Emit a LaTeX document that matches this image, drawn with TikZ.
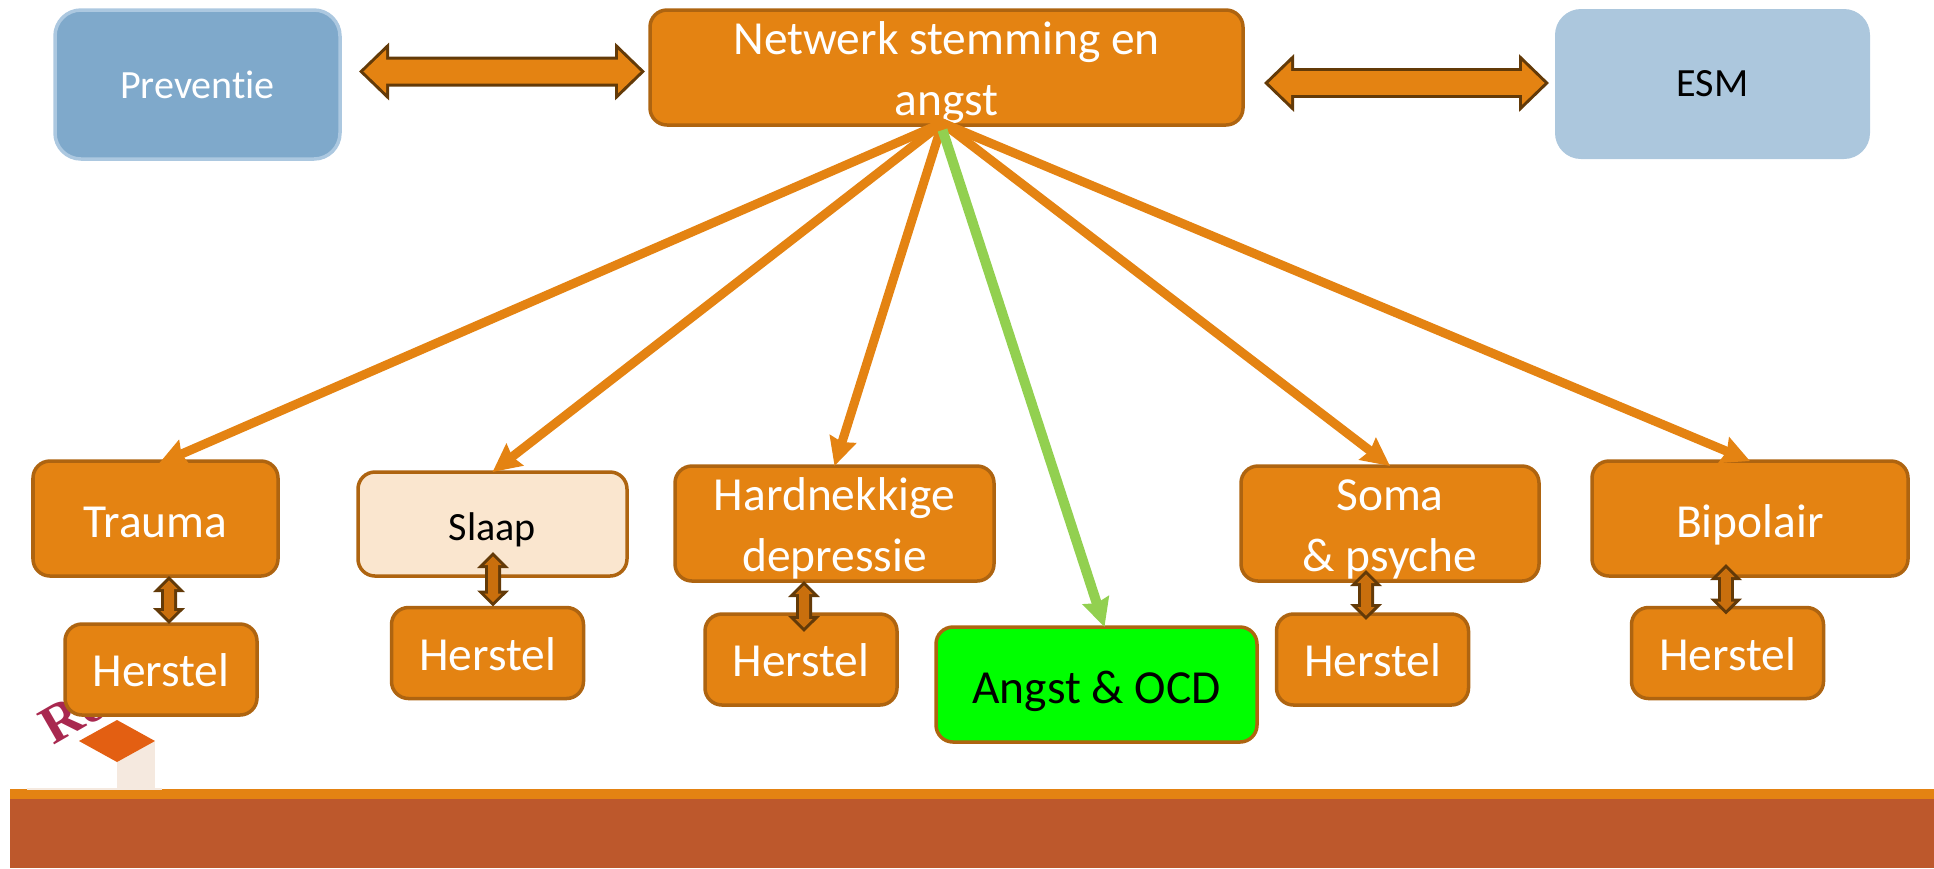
\documentclass[tikz,border=0pt]{standalone}
\usepackage{fontspec}
\setmainfont[Ligatures=NoCommon]{Carlito}
\newfontfamily\logofont{Liberation Serif}
\usetikzlibrary{arrows.meta}
\definecolor{boxorange}{HTML}{E48312}
\definecolor{boxedge}{HTML}{AE6410}
\definecolor{arrowdark}{HTML}{633A08}
\definecolor{smallfill}{HTML}{C96F0D}
\definecolor{greenline}{HTML}{92D050}
\definecolor{band}{HTML}{BD582C}
\definecolor{preventiefill}{HTML}{7FA9CB}
\definecolor{preventieedge}{HTML}{ACC8E0}
\definecolor{esmfill}{HTML}{ACC7DD}
\definecolor{slaapfill}{HTML}{FAE6CF}
\definecolor{logored}{HTML}{A8284F}
\definecolor{logoroof}{HTML}{E35F12}
\definecolor{logowall}{HTML}{F5E9DF}
\begin{document}
\begin{tikzpicture}
  [x=1cm, y=-1cm, >={Stealth[length=.28cm,width=.27cm,inset=.03cm]},
    orangebox/.style={%
      rectangle, rounded corners=.17cm, draw=boxedge, line width=.035cm,
      fill=boxorange, text=white, align=center, inner sep=0pt, outer sep=0pt,
      font=\fontsize{13.5}{17.3}\selectfont
    },
    herstel/.style={%
      orangebox, minimum width=1.92cm, minimum height=.91cm,
      text height=.34cm, text depth=0cm
    },
    group/.style={%
      orangebox, minimum height=1.15cm, text height=.38cm, text depth=0cm
    },
    twolines/.style={%
      text height=1.03cm, text depth=.08cm
    },
    bluebox/.style={%
      rectangle, rounded corners=.26cm, inner sep=0pt, outer sep=0pt,
      minimum height=1.49cm, font=\fontsize{11.4}{13}\selectfont
    },
    bigblock/.style={%
      preaction={draw=arrowdark, line width=.30cm, shorten >=0pt, shorten <=0pt,
        {Triangle[length=.30cm,width=.56cm]}-{Triangle[length=.30cm,width=.56cm]}},
      draw=boxorange, line width=.24cm, shorten >=.044cm, shorten <=.044cm,
      {Triangle[length=.226cm,width=.42cm]}-{Triangle[length=.226cm,width=.42cm]}
    },
    smallblock/.style={%
      preaction={draw=arrowdark, line width=.16cm, shorten >=0pt, shorten <=0pt,
        {Triangle[length=.16cm,width=.31cm]}-{Triangle[length=.16cm,width=.31cm]}},
      draw=smallfill, line width=.10cm, shorten >=.043cm, shorten <=.043cm,
      {Triangle[length=.087cm,width=.168cm]}-{Triangle[length=.087cm,width=.168cm]}
    },
    feed/.style={%
      ->, color=boxorange, line width=.09cm
    },
  ]

  \useasboundingbox (0,0) rectangle (19.34,8.68);

  % footer and logo
  \fill[band] (.10,7.89) rectangle (19.34,8.68);
  \fill[boxorange] (.10,7.89) rectangle (19.34,7.99);
  \fill[logowall] (.27,7.88) rectangle (1.62,7.90);
  \node[text=logored, font=\fontsize{15.4}{18}\selectfont\logofont\bfseries, rotate=30,
    anchor=west, inner sep=0pt] (logoname) at (.44,7.31) {Ro};
  \fill[logowall] (1.17,7.42) rectangle (1.55,7.89);
  \fill[logoroof] (1.17,7.20) -- (1.55,7.41) -- (1.17,7.62) -- (.79,7.41) -- cycle;

  % top row
  \node[bluebox, draw=preventieedge, line width=.035cm, fill=preventiefill,
    text=white, minimum width=2.85cm] (preventie) at (1.975,.845) {Preventie};
  \node[orangebox, twolines, minimum width=5.93cm, minimum height=1.15cm] (netwerk) at (9.465,.675)
    {Netwerk stemming en\\angst};
  \node[bluebox, fill=esmfill, minimum width=3.15cm, minimum height=1.50cm] (esm)
    at (17.125,.84) {ESM};

  % groups
  \node[group, minimum width=2.45cm] (trauma) at (1.555,5.185) {Trauma};
  \node[orangebox, fill=slaapfill, text=black, minimum width=2.69cm, minimum height=1.04cm,
    text height=.32cm, text depth=0cm, font=\fontsize{11.4}{13}\selectfont] (slaap) at (4.925,5.24) {Slaap};
  \node[group, twolines, minimum width=3.19cm] (hardnekkig) at (8.345,5.235) {Hardnekkige\\depressie};
  \node[group, fill=green, text=black, minimum width=3.21cm] (angst) at (10.965,6.845) {Angst \& OCD};
  \node[group, twolines, minimum width=2.98cm] (soma) at (13.90,5.235) {Soma\\\& psyche};
  \node[group, minimum width=3.16cm] (bipolair) at (17.50,5.185) {Bipolair};

  \node[herstel] (herstela) at (1.61,6.695) {Herstel};
  \node[herstel] (herstelb) at (4.875,6.53) {Herstel};
  \node[herstel] (herstelc) at (8.01,6.595) {Herstel};
  \node[herstel] (herstele) at (13.725,6.595) {Herstel};
  \node[herstel] (herstelf) at (17.275,6.53) {Herstel};

  \coordinate (hub) at ([xshift=-.04cm,yshift=.02cm]netwerk.south);

  \path[feed]
  (hub) edge ([xshift=.03cm,yshift=-.03cm]trauma.north)
        edge (slaap.north)
        edge (hardnekkig.north)
        edge (soma.north)
        edge (bipolair.north);
  \draw[->,color=greenline,line width=.10cm] ([yshift=-.07cm]hub) -- ([xshift=.08cm]angst.north);

  \draw[bigblock] ([xshift=.19cm,yshift=.13cm]preventie.east) -- ([xshift=-.05cm,yshift=-.04cm]netwerk.west);
  \draw[bigblock] ([xshift=.21cm,yshift=-.155cm]netwerk.east) -- ([xshift=-.06cm,yshift=.01cm]esm.west);

  \draw[smallblock] ([xshift=.135cm]trauma.south) -- ([xshift=.08cm]herstela.north);
  \draw[smallblock] ([xshift=.005cm,yshift=.24cm]slaap.south) -- ([xshift=.055cm,yshift=.01cm]herstelb.north);
  \draw[smallblock] ([xshift=-.305cm]hardnekkig.south) -- ([xshift=.03cm,yshift=-.18cm]herstelc.north);
  \draw[smallblock] ([xshift=-.24cm,yshift=.11cm]soma.south) -- ([xshift=-.065cm,yshift=-.06cm]herstele.north);
  \draw[smallblock] ([xshift=-.24cm,yshift=.12cm]bipolair.south) -- ([xshift=-.015cm,yshift=-.07cm]herstelf.north);

\end{tikzpicture}
\end{document}
